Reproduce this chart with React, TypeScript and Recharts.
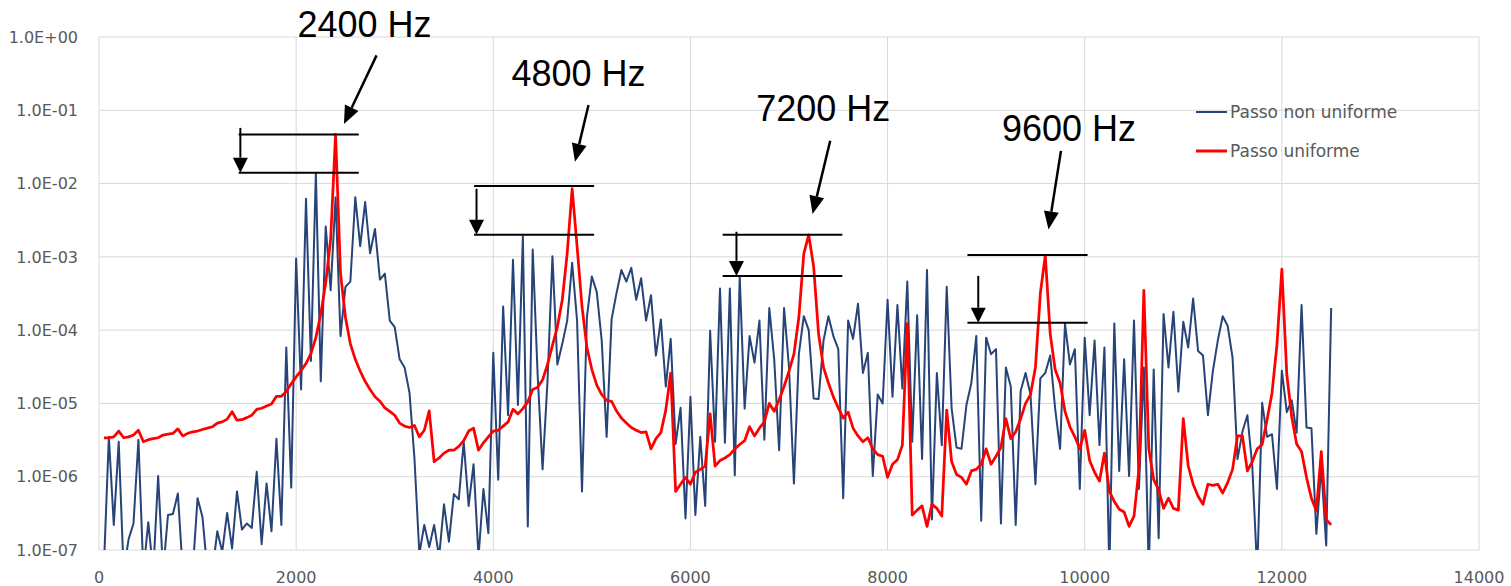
import { LineChart, Line, XAxis, YAxis, CartesianGrid, Legend, ReferenceLine } from 'recharts';

// spectrum sampled every 50 Hz, first point at 50 Hz
const STEP_HZ = 50;

// "Passo non uniforme"
const blueValues = [
  6e-8, 3.5e-6, 2.2e-7, 3.0e-6, 5e-8, 1.4e-7, 2.3e-7, 3.2e-6, 5e-8, 2.4e-7,
  5e-8, 1.02e-6, 5e-8, 3.0e-7, 3.1e-7, 5.9e-7, 5e-8, 5e-8, 5e-8, 5.1e-7,
  2.8e-7, 5e-8, 5e-8, 1.8e-7, 9.5e-8, 3.2e-7, 1.05e-7, 6.3e-7, 1.9e-7, 2.3e-7,
  2.0e-7, 1.17e-6, 1.2e-7, 8.1e-7, 1.8e-7, 3.3e-6, 2.2e-7, 5.8e-5, 7.1e-7, 9.5e-4,
  1.55e-5, 6.2e-3, 3.8e-5, 1.38e-2, 2.0e-5, 2.6e-3, 3.5e-4, 6.5e-3, 8.3e-5, 3.9e-4,
  4.6e-4, 6.5e-3, 1.4e-3, 5.6e-3, 1.12e-3, 2.4e-3, 4.9e-4, 5.9e-4, 1.35e-4, 1.1e-4,
  4.0e-5, 3.1e-5, 1.4e-5, 1.8e-6, 8.9e-8, 2.2e-7, 1.1e-7, 2.2e-7, 8e-8, 4.2e-7,
  1.3e-7, 5.8e-7, 4.9e-7, 3.0e-6, 4.0e-7, 1.48e-6, 8e-8, 6.8e-7, 1.7e-7, 4.9e-5,
  9.1e-7, 2.1e-4, 6.9e-6, 9.1e-4, 9.5e-6, 1.9e-3, 2.1e-7, 1.26e-3, 2.45e-5, 1.26e-6,
  2.0e-5, 1.02e-3, 3.4e-5, 6.5e-5, 1.35e-4, 8.3e-4, 1.35e-4, 6.3e-7, 1.5e-4, 5.4e-4,
  3.3e-4, 7.2e-5, 3.5e-6, 1.4e-4, 3.2e-4, 6.6e-4, 4.6e-4, 7.1e-4, 2.6e-4, 5.1e-4,
  1.35e-4, 3.0e-4, 4.5e-5, 1.4e-4, 1.7e-5, 7.6e-5, 2.8e-6, 8.7e-6, 2.7e-7, 1.23e-5,
  3.0e-7, 3.5e-6, 4.0e-7, 9.8e-5, 3.0e-6, 3.7e-4, 2.9e-6, 3.7e-4, 1.05e-6, 5.4e-4,
  8.5e-6, 8.3e-5, 3.6e-5, 1.35e-4, 3.2e-6, 2.0e-4, 4.0e-5, 2.3e-6, 2.0e-4, 3.1e-5,
  8.1e-7, 4.7e-5, 1.55e-4, 1.0e-4, 1.17e-5, 1.15e-5, 7.2e-5, 1.55e-4, 8.3e-5, 5.5e-5,
  5.1e-7, 1.35e-4, 7.6e-5, 2.3e-4, 2.6e-5, 4.9e-5, 1.02e-6, 1.32e-5, 1.0e-5, 2.6e-4,
  1.23e-5, 2.2e-4, 1.6e-5, 4.6e-4, 3.0e-6, 1.6e-4, 1.74e-6, 6.6e-4, 2.6e-7, 2.6e-5,
  2.7e-6, 3.9e-4, 8.5e-6, 2.5e-6, 2.4e-6, 9.5e-6, 1.9e-5, 8.3e-5, 2.5e-7, 7.9e-5,
  4.7e-5, 5.5e-5, 2.3e-7, 3.1e-5, 1.7e-5, 2.2e-7, 1.48e-5, 2.6e-5, 1.32e-5, 7.9e-7,
  2.2e-5, 2.6e-5, 4.5e-5, 8.5e-6, 2.4e-6, 1.23e-4, 3.4e-5, 5.5e-5, 6.8e-7, 7.9e-5,
  6.9e-6, 7.2e-5, 2.7e-6, 5.8e-5, 5e-8, 1.23e-4, 1.2e-6, 4.0e-5, 1.02e-6, 1.35e-4,
  6.8e-7, 3.1e-5, 5e-8, 2.9e-5, 1.45e-7, 1.66e-4, 3.1e-5, 1.78e-4, 1.45e-5, 1.3e-4,
  5.8e-5, 2.7e-4, 5.2e-5, 4.5e-5, 6.9e-6, 2.75e-5, 7.2e-5, 1.55e-4, 1.15e-4, 4.2e-5,
  1.74e-6, 4.1e-6, 6.9e-6, 1.4e-6, 5e-8, 1.02e-5, 3.5e-6, 3.8e-6, 6.8e-7, 2.8e-5,
  7.6e-6, 1.1e-5, 4.0e-6, 2.2e-4, 4.7e-6, 4.6e-6, 1.66e-7, 1.35e-6, 1.15e-7, 2.0e-4,
];

// "Passo uniforme"
const redValues = [
  3.4e-6, 3.4e-6, 3.5e-6, 4.2e-6, 3.4e-6, 3.5e-6, 3.7e-6, 4.3e-6, 3.0e-6, 3.2e-6,
  3.3e-6, 3.4e-6, 3.7e-6, 3.8e-6, 3.9e-6, 4.5e-6, 3.6e-6, 3.9e-6, 4.1e-6, 4.2e-6,
  4.4e-6, 4.6e-6, 4.8e-6, 5.4e-6, 5.6e-6, 6.1e-6, 7.7e-6, 5.9e-6, 6.0e-6, 6.4e-6,
  6.9e-6, 8.3e-6, 8.6e-6, 9.2e-6, 9.8e-6, 1.25e-5, 1.25e-5, 1.45e-5, 1.85e-5, 2.3e-5,
  2.8e-5, 3.5e-5, 4.8e-5, 7.9e-5, 1.66e-4, 4.4e-4, 1.74e-3, 4.7e-2, 6.0e-4, 1.5e-4,
  6.5e-5, 4.0e-5, 2.75e-5, 2.0e-5, 1.55e-5, 1.23e-5, 1.07e-5, 8.7e-6, 7.8e-6, 6.9e-6,
  5.4e-6, 4.9e-6, 4.7e-6, 5.0e-6, 3.5e-6, 4.3e-6, 7.9e-6, 1.6e-6, 1.8e-6, 2.1e-6,
  2.3e-6, 2.3e-6, 2.6e-6, 3.1e-6, 4.2e-6, 4.6e-6, 2.3e-6, 2.9e-6, 3.5e-6, 4.2e-6,
  4.3e-6, 4.9e-6, 5.6e-6, 8.3e-6, 7.2e-6, 8.5e-6, 1.05e-5, 1.55e-5, 1.66e-5, 2.1e-5,
  3.4e-5, 6.2e-5, 1.1e-4, 2.6e-4, 1.12e-3, 8.5e-3, 1.4e-3, 2.1e-4, 5.8e-5, 2.9e-5,
  1.78e-5, 1.32e-5, 1.1e-5, 1.07e-5, 7.9e-6, 6.3e-6, 5.4e-6, 4.7e-6, 4.3e-6, 4.0e-6,
  4.1e-6, 2.4e-6, 3.3e-6, 4.0e-6, 8.1e-6, 2.6e-5, 6.3e-7, 7.9e-7, 9.8e-7, 7.9e-7,
  1.15e-6, 1.26e-6, 1.4e-6, 7.2e-6, 1.4e-6, 1.66e-6, 1.8e-6, 2.0e-6, 2.4e-6, 2.75e-6,
  3.1e-6, 4.8e-6, 3.6e-6, 4.6e-6, 5.6e-6, 1.0e-5, 7.8e-6, 1.12e-5, 1.7e-5, 2.75e-5,
  4.7e-5, 1.5e-4, 1.1e-3, 2.0e-3, 7.4e-4, 8.9e-5, 3.1e-5, 1.9e-5, 1.23e-5, 8.7e-6,
  6.3e-6, 7.6e-6, 4.6e-6, 3.6e-6, 3.0e-6, 3.4e-6, 2.4e-6, 2.0e-6, 1.9e-6, 9.8e-7,
  1.48e-6, 1.7e-6, 2.7e-6, 1.23e-4, 3.0e-7, 3.5e-7, 4.0e-7, 2.1e-7, 4.2e-7, 3.7e-7,
  2.9e-7, 8.1e-6, 1.6e-6, 1.07e-6, 9.8e-7, 7.9e-7, 1.2e-6, 1.26e-6, 1.48e-6, 2.4e-6,
  1.48e-6, 1.9e-6, 2.5e-6, 6.2e-6, 3.3e-6, 4.1e-6, 6.2e-6, 1.0e-5, 1.32e-5, 3.1e-5,
  3.2e-4, 1.05e-3, 8.9e-5, 2.9e-5, 1.9e-5, 7.8e-6, 4.8e-6, 3.5e-6, 2.4e-6, 4.3e-6,
  1.66e-6, 1.15e-6, 8.7e-7, 2.1e-6, 6.3e-7, 4.6e-7, 3.6e-7, 3.3e-7, 2.1e-7, 2.9e-7,
  1.26e-6, 3.5e-4, 2.4e-6, 9.1e-7, 6.6e-7, 3.7e-7, 5.1e-7, 3.7e-7, 3.5e-7, 6.2e-6,
  1.4e-6, 7.9e-7, 5.4e-7, 4.2e-7, 7.9e-7, 7.6e-7, 7.9e-7, 6.0e-7, 8.3e-7, 1.26e-6,
  3.6e-6, 3.6e-6, 1.2e-6, 1.6e-6, 2.4e-6, 2.75e-6, 6.0e-6, 1.38e-5, 6.3e-5, 6.8e-4,
  2.5e-5, 6.6e-6, 2.8e-6, 2.2e-6, 9.8e-7, 5.1e-7, 3.4e-7, 2.2e-6, 2.6e-7, 2.2e-7,
];

const xTicks = [0, 2000, 4000, 6000, 8000, 10000, 12000, 14000];
const yTicks = [1e-7, 1e-6, 1e-5, 1e-4, 1e-3, 1e-2, 1e-1, 1];

// annotations, in data units (Hz, amplitude)
const peakLabels = ['2400 Hz', '4800 Hz', '7200 Hz', '9600 Hz'];
const arrowStart = [[2816, 0.562], [4966, 0.118], [7418, 0.0384], [9759, 0.0279]];
const arrowTip = [[2485, 0.065], [4829, 0.0199], [7239, 0.00383], [9633, 0.00237]];
const bracketTop = [0.0466, 0.00925, 0.002, 0.00106];
const bracketBottom = [0.0141, 0.002, 0.00055, 0.000126];
const bracketFrom = [1417, 3805, 6327, 8810];
const bracketTo = [2635, 5023, 7541, 10029];
const bracketArrowX = [1434, 3830, 6467, 8920];
const bracketArrowTop = [0.0575, 0.0085, 0.0022, 0.00055];

// label position relative to the arrow start, px
const labelOffset = [[-12, -18], [-10, -19], [-7, -20], [8, -10]];

const data = redValues.map((v, i) => ({
  f: (i + 1) * STEP_HZ,
  blue: blueValues[i],
  red: v,
}));

const formatExp = (v: number) => {
  const e = Math.round(Math.log10(v));
  return '1.0E' + (e < 0 ? '-' : '+') + String(Math.abs(e)).padStart(2, '0');
};

const arrowShape = (head: number, half: number, width: number, label?: string, off?: number[]) => (p: any) => {
  const { x1, y1, x2, y2 } = p;
  const len = Math.hypot(x2 - x1, y2 - y1);
  const ux = (x2 - x1) / len;
  const uy = (y2 - y1) / len;
  const bx = x2 - ux * head;
  const by = y2 - uy * head;
  const pts = `${x2},${y2} ${bx - uy * half},${by + ux * half} ${bx + uy * half},${by - ux * half}`;
  return (
    <g>
      <line x1={x1} y1={y1} x2={bx} y2={by} stroke="#000" strokeWidth={width} />
      <polygon points={pts} fill="#000" />
      {label && off && (
        <text
          x={x1 + off[0]}
          y={y1 + off[1]}
          textAnchor="middle"
          fontFamily="'Liberation Sans', Arial, sans-serif"
          fontSize={36}
          fill="#000"
        >
          {label}
        </text>
      )}
    </g>
  );
};

const renderLegend = (props: any) => (
  <div>
    {props.payload.map((item: any) => (
      <div key={item.value} style={{ display: 'flex', alignItems: 'center', height: 39 }}>
        <svg width={31} height={4}>
          <line x1={0} y1={2} x2={31} y2={2} stroke={item.color} strokeWidth={item.value === 'Passo uniforme' ? 3 : 2} />
        </svg>
        <span style={{ marginLeft: 3, fontFamily: "'DejaVu Sans', sans-serif", fontSize: 17, color: '#595959', whiteSpace: 'nowrap' }}>
          {item.value}
        </span>
      </div>
    ))}
  </div>
);

const App = () => {
  return (
    <div style={{ position: 'absolute', left: 0, top: 0, background: '#fff' }}>
      <LineChart width={1511} height={586} data={data} margin={{ top: 37, right: 32, bottom: 0, left: 0 }}>
        <CartesianGrid stroke="#D9D9D9" strokeWidth={1} />
        <XAxis
          dataKey="f"
          type="number"
          domain={[0, 14000]}
          ticks={xTicks}
          height={36}
          axisLine={false}
          tickLine={false}
          tickMargin={16}
          tick={{ fill: '#595959', fontSize: 16, fontFamily: "'DejaVu Sans', sans-serif" }}
        />
        <YAxis
          type="number"
          scale="log"
          domain={[1e-7, 1]}
          allowDataOverflow
          ticks={yTicks}
          width={99}
          axisLine={false}
          tickLine={false}
          tickMargin={15}
          tickFormatter={formatExp}
          tick={{ fill: '#595959', fontSize: 16, fontFamily: "'DejaVu Sans', sans-serif" }}
        />
        <Line
          dataKey="blue"
          name="Passo non uniforme"
          stroke="#264478"
          strokeWidth={2}
          strokeLinejoin="round"
          dot={false}
          isAnimationActive={false}
        />
        <Line
          dataKey="red"
          name="Passo uniforme"
          stroke="#FF0000"
          strokeWidth={2.75}
          strokeLinejoin="round"
          dot={false}
          isAnimationActive={false}
        />
        {peakLabels.map((label, k) => (
          <ReferenceLine
            key={`top-${k}`}
            segment={[{ x: bracketFrom[k], y: bracketTop[k] }, { x: bracketTo[k], y: bracketTop[k] }]}
            stroke="#000"
            strokeWidth={2}
            ifOverflow="visible"
          />
        ))}
        {peakLabels.map((label, k) => (
          <ReferenceLine
            key={`bot-${k}`}
            segment={[{ x: bracketFrom[k], y: bracketBottom[k] }, { x: bracketTo[k], y: bracketBottom[k] }]}
            stroke="#000"
            strokeWidth={2}
            ifOverflow="visible"
          />
        ))}
        {peakLabels.map((label, k) => (
          <ReferenceLine
            key={`drop-${k}`}
            segment={[{ x: bracketArrowX[k], y: bracketArrowTop[k] }, { x: bracketArrowX[k], y: bracketBottom[k] }]}
            ifOverflow="visible"
            shape={arrowShape(15, 7.5, 2)}
          />
        ))}
        {peakLabels.map((label, k) => (
          <ReferenceLine
            key={`arrow-${k}`}
            segment={[{ x: arrowStart[k][0], y: arrowStart[k][1] }, { x: arrowTip[k][0], y: arrowTip[k][1] }]}
            ifOverflow="visible"
            shape={arrowShape(18, 7.5, 2.5, label, labelOffset[k])}
          />
        ))}
        <Legend
          layout="vertical"
          align="center"
          verticalAlign="middle"
          wrapperStyle={{ left: 1196, top: 92, width: 280 }}
          content={renderLegend}
        />
      </LineChart>
    </div>
  );
};

export default App;
